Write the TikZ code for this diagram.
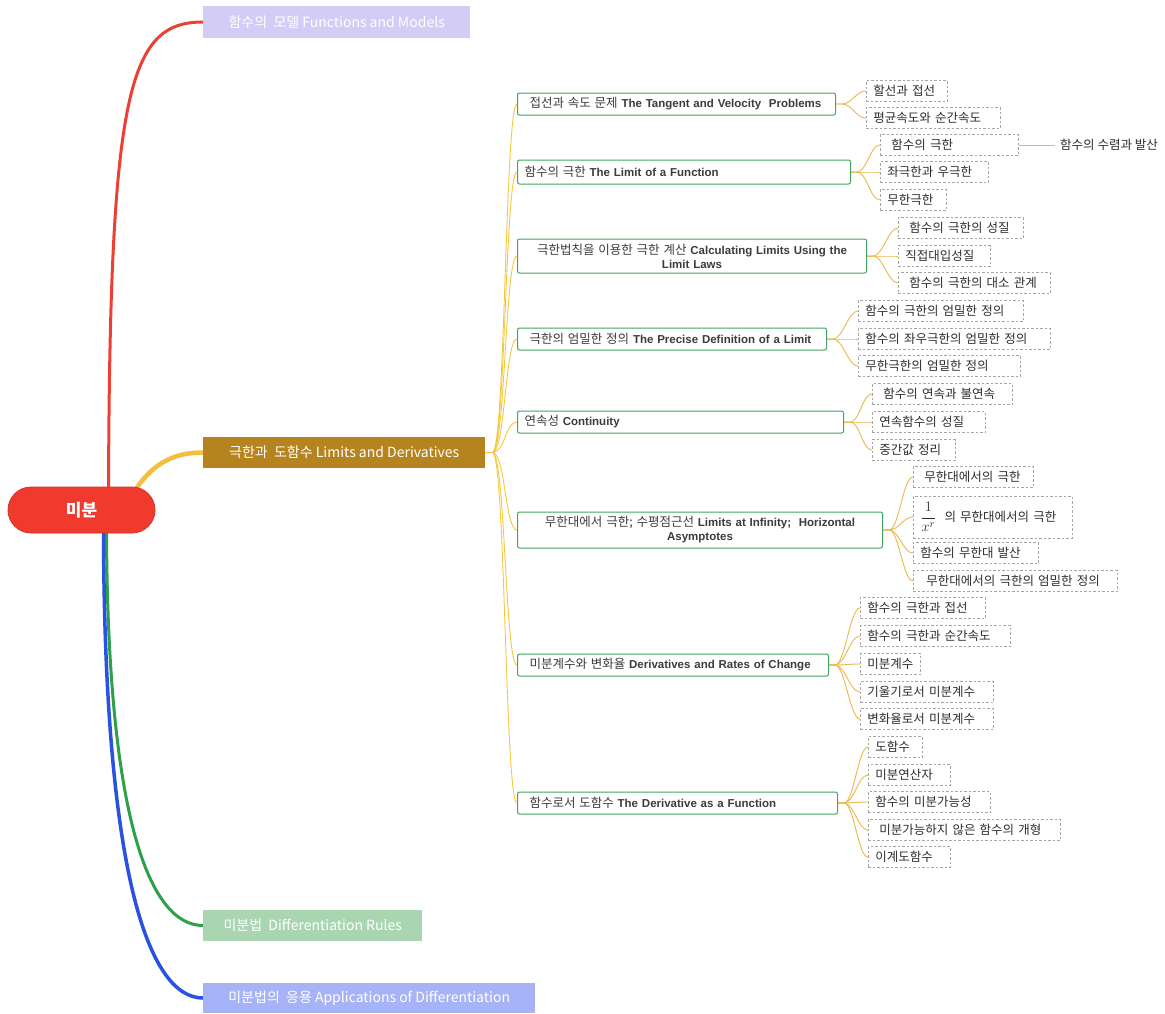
\documentclass[tikz,border=0pt]{standalone}
\usepackage{fontspec}
\setmainfont{Liberation Sans}
\newfontfamily\krfont{Noto Sans CJK KR}
\newcommand\kr[1]{{\mdseries\krfont\fontsize{12.5}{14}\selectfont #1}}
\usetikzlibrary{backgrounds}

\definecolor{rootred}{HTML}{F03A2D}
\definecolor{rootedge}{HTML}{D93026}
\definecolor{redline}{HTML}{EC4034}
\definecolor{goldline}{HTML}{F3BF3C}
\definecolor{greenline}{HTML}{2EA04A}
\definecolor{blueline}{HTML}{2952E0}
\definecolor{mone}{HTML}{D3CCF5}
\definecolor{mtwo}{HTML}{B5841E}
\definecolor{mthree}{HTML}{A9D6B1}
\definecolor{mfour}{HTML}{A7B3F7}
\definecolor{subgreen}{HTML}{43A560}
\definecolor{leafgray}{HTML}{A5A5A5}
\definecolor{trunkc}{HTML}{F5C842}
\definecolor{twigc}{HTML}{EDB84A}
\definecolor{txt}{HTML}{2E2E2E}
\definecolor{latintxt}{HTML}{3C3C3C}

\begin{document}
\begin{tikzpicture}[x=1pt,y=-1pt,
  rootnode/.style={rounded corners=23pt, fill=rootred, draw=rootedge, line width=0.8pt,
    minimum width=147pt, minimum height=46pt, inner sep=0pt, text=white,
    font=\krfont\bfseries\fontsize{17}{20}\selectfont},
  mainbox/.style={anchor=west, inner sep=0pt, minimum height=31pt, text=white,
    font=\krfont\fontsize{14}{16}\selectfont},
  subbox/.style={anchor=west, draw=subgreen, line width=1pt, rounded corners=2pt, fill=white,
    minimum height=22pt, inner xsep=12pt, inner ysep=2pt, align=left, text=latintxt,
    font=\bfseries\fontsize{11.5}{14}\selectfont},
  leafbox/.style={anchor=west, draw=leafgray, dash pattern=on 2.5pt off 2pt, line width=0.7pt,
    fill=white, minimum height=21pt, inner xsep=7pt, inner ysep=1pt, align=left, text=txt,
    font=\krfont\fontsize{12.5}{14}\selectfont},
  trunk/.style={draw=trunkc, line width=0.9pt,
    to path={-- ++(7,0) .. controls +(13,0) and +(-12,0) .. (\tikztotarget)}},
  twig/.style={draw=twigc, line width=0.9pt,
    to path={-- ++(6,0) .. controls +(10,0) and +(-10,0) .. (\tikztotarget)}}
]
\useasboundingbox (0,0) rectangle (1165,1013);

% centre and first-level topics
\node[rootnode] (root) at (81.5,510) {미분};
\node[mainbox, fill=mone, minimum width=267pt, minimum height=32pt] (M1) at (203,22) {함수의\ \ 모델 Functions and Models};
\node[mainbox, fill=mtwo, minimum width=282pt] (M2) at (203,452.5) {극한과\ \ 도함수 Limits and Derivatives};
\node[mainbox, fill=mthree, minimum width=219pt] (M3) at (203,925.5) {미분법\ \ Differentiation Rules};
\node[mainbox, fill=mfour, minimum width=332pt, minimum height=30pt] (M4) at (203,998) {미분법의\ \ 응용 Applications of Differentiation};

\begin{scope}[on background layer]
  \fill[white] (0,0) rectangle (1165,1013);
  \draw[redline, line width=3pt] (root.center) ++(27,0) .. controls (109,90) and (128,22) .. (M1.west);
  \draw[goldline, line width=4.5pt] (root.center) ++(48,-10) .. controls (150,462) and (175,452.5) .. (M2.west);
  \draw[greenline, line width=3pt] (root.center) ++(25,5) .. controls (106,820) and (150,925.5) .. (M3.west);
  \draw[blueline, line width=3.5pt] (root.center) ++(22,5) .. controls (103,880) and (150,998) .. (M4.west);
\end{scope}

% second-level topics
\node[subbox, text width=294pt] (S1) at (517,104) {\mbox{\kr{접선과 속도 문제} The Tangent and Velocity\ \ Problems}};
\node[subbox, text width=309pt, minimum height=24pt] (S2) at (517,172) {\hspace*{-5pt}\kr{함수의 극한} The Limit of a Function};
\node[subbox, text width=325pt, minimum height=34pt, align=center] (S3) at (517,256) {\kr{극한법칙을 이용한 극한 계산} Calculating Limits Using the\\Limit Laws};
\node[subbox, text width=291pt, inner xsep=9pt] (S4) at (517,339) {\mbox{\hspace*{3pt}\kr{극한의 엄밀한 정의} The Precise\ Definition of a Limit}};
\node[subbox, text width=302pt] (S5) at (517,422) {\hspace*{-5pt}\kr{연속성} Continuity};
\node[subbox, text width=341pt, minimum height=36pt, align=center] (S6) at (517,530) {\kr{무한대에서 극한; 수평점근선} Limits at Infinity;\ \ Horizontal\\Asymptotes};
\node[subbox, text width=287pt] (S7) at (517,665) {\mbox{\kr{미분계수와 변화율} Derivatives and Rates of Change}};
\node[subbox, text width=296pt] (S8) at (517,803) {\kr{함수로서 도함수} The Derivative as a Function};

\foreach \s in {S1,S2,S3,S4,S5,S6,S7,S8} \draw[trunk] (M2.east) to (\s.west);

% leaves
\node[leafbox, text width=67pt]  (L1a) at (866,91)  {할선과 접선};
\node[leafbox, text width=120pt] (L1b) at (866,118) {평균속도와 순간속도};

\node[leafbox, text width=124pt] (L2a) at (880,145) {\hspace*{4pt}함수의 극한};
\node[leafbox, text width=94pt]  (L2b) at (880,172) {좌극한과 우극한};
\node[leafbox, text width=52pt]  (L2c) at (880,200) {무한극한};
\node[anchor=west, inner sep=2pt, text=txt, font=\krfont\fontsize{12.5}{14}\selectfont] (L2x) at (1058,145) {함수의 수렴과 발산};

\node[leafbox, text width=111pt] (L3a) at (898,228) {\hspace*{4pt}함수의 극한의 성질};
\node[leafbox, text width=78pt]  (L3b) at (898,256) {직접대입성질};
\node[leafbox, text width=138pt] (L3c) at (898,283) {\hspace*{4pt}함수의 극한의 대소 관계};

\node[leafbox, text width=151pt] (L4a) at (858,311) {함수의 극한의 엄밀한 정의};
\node[leafbox, text width=178pt] (L4b) at (858,339) {함수의 좌우극한의 엄밀한 정의};
\node[leafbox, text width=148pt] (L4c) at (858,366) {무한극한의 엄밀한 정의};

\node[leafbox, text width=126pt] (L5a) at (872,394) {\hspace*{4pt}함수의 연속과 불연속};
\node[leafbox, text width=99pt]  (L5b) at (872,422) {연속함수의 성질};
\node[leafbox, text width=69pt]  (L5c) at (872,450) {중간값 정리};

\node[leafbox, text width=106pt] (L6a) at (913,477) {\hspace*{4pt}무한대에서의 극한};
\node[leafbox, text width=145pt, minimum height=42pt] (L6b) at (913,517) {{\fontsize{15}{17}\selectfont$\displaystyle\frac{1}{x^{r}}$}\hspace*{8pt}의 무한대에서의 극한};
\node[leafbox, text width=111pt] (L6c) at (913,553) {함수의 무한대 발산};
\node[leafbox, text width=190pt] (L6d) at (913,581) {\hspace*{6pt}무한대에서의 극한의 엄밀한 정의};

\node[leafbox, text width=111pt] (L7a) at (860,608) {함수의 극한과 접선};
\node[leafbox, text width=136pt] (L7b) at (860,636) {함수의 극한과 순간속도};
\node[leafbox, text width=46pt]  (L7c) at (860,664) {미분계수};
\node[leafbox, text width=119pt] (L7d) at (860,692) {기울기로서 미분계수};
\node[leafbox, text width=119pt] (L7e) at (860,719) {변화율로서 미분계수};

\node[leafbox, text width=40pt]  (L8a) at (868,747) {도함수};
\node[leafbox, text width=68pt]  (L8b) at (868,775) {미분연산자};
\node[leafbox, text width=108pt] (L8c) at (868,802) {함수의 미분가능성};
\node[leafbox, text width=178pt] (L8d) at (868,830) {\hspace*{4pt}미분가능하지 않은 함수의 개형};
\node[leafbox, text width=68pt]  (L8e) at (868,857) {이계도함수};

% leaf connectors
\foreach \l in {L1a,L1b} \draw[twig] (S1.east) to (\l.west);
\foreach \l in {L2a,L2b,L2c} \draw[twig] (S2.east) to (\l.west);
\foreach \l in {L3a,L3b,L3c} \draw[twig] (S3.east) to (\l.west);
\foreach \l in {L4a,L4b,L4c} \draw[twig] (S4.east) to (\l.west);
\foreach \l in {L5a,L5b,L5c} \draw[twig] (S5.east) to (\l.west);
\foreach \l in {L6a,L6b,L6c,L6d} \draw[twig] (S6.east) to (\l.west);
\foreach \l in {L7a,L7b,L7c,L7d,L7e} \draw[twig] (S7.east) to (\l.west);
\foreach \l in {L8a,L8b,L8c,L8d,L8e} \draw[twig] (S8.east) to (\l.west);
\draw[twig] (L2a.east) -- ([xshift=-3pt]L2x.west);
\end{tikzpicture}
\end{document}
